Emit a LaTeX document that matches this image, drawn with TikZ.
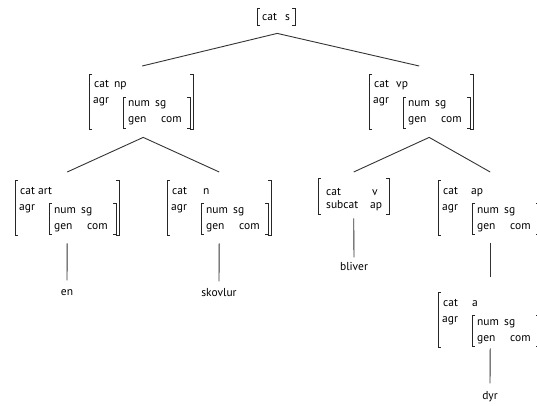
\documentclass[tikz,border=0pt]{standalone}
\usepackage{fontspec}
\setmainfont{PT Sans}
\usetikzlibrary{calc}
\tikzset{
  brk/.style={line width=0.9pt, black!85},
  conn/.style={line width=0.9pt, black!80},
  txt/.style={inner sep=0pt, anchor=base west, font=\fontsize{11.5}{13}\selectfont},
  leaf/.style={inner sep=0pt, font=\fontsize{11.5}{13}\selectfont, text height=7pt, text depth=2pt},
  avmbox/.style={inner sep=0pt, minimum width=104pt, minimum height=55pt, anchor=north west},
}
% AVM with cat and agr features: name, left, top, cat value, value offset
\newcommand\AVMagr[5]{%
  \node[avmbox] (#1) at (#2,#3) {};
  \begin{scope}[shift={(#2,#3)}]
    \draw[brk] (3,0) -- (0,0) -- (0,55) -- (3,55);
    \draw[brk] (101,0) -- (104,0) -- (104,55) -- (101,55);
    \draw[brk] (37,23) -- (34,23) -- (34,54) -- (37,54);
    \draw[brk] (98,23) -- (101,23) -- (101,54) -- (98,54);
    \node[txt] (#1-c) at (5,14) {cat};
    \node[txt] (#1-cv) at (#5,14) {#4};
    \node[txt] (#1-a) at (4,30) {agr};
    \node[txt] (#1-n) at (39,33) {num};
    \node[txt] (#1-nv) at (66,33) {sg};
    \node[txt] (#1-g) at (39,49) {gen};
    \node[txt] (#1-gv) at (72,49) {com};
  \end{scope}}
\begin{document}
\begin{tikzpicture}[x=1pt,y=-1pt]
\useasboundingbox (0,0) rectangle (537,406);
% root
\node[inner sep=0pt, minimum width=38pt, minimum height=17pt, anchor=north west] (s) at (257,8) {};
\draw[brk] (260,8) -- (257,8) -- (257,25) -- (260,25);
\draw[brk] (292,8) -- (295,8) -- (295,25) -- (292,25);
\node[txt] (s-c) at (262,21) {cat};
\node[txt] (s-cv) at (285,21) {s};
% second level
\AVMagr{np}{89}{74}{np}{25}
\AVMagr{vp}{369}{74}{vp}{27}
% third level
\AVMagr{art}{15}{180}{art}{23}
\AVMagr{n}{167}{180}{n}{36}
\node[inner sep=0pt, minimum width=71pt, minimum height=36pt, anchor=north west] (v) at (318,178) {};
\draw[brk] (321,178) -- (318,178) -- (318,214) -- (321,214);
\draw[brk] (386,178) -- (389,178) -- (389,214) -- (386,214);
\node[txt] (v-c) at (326,195) {cat};
\node[txt] (v-cv) at (372,195) {v};
\node[txt] (v-s) at (326,208) {subcat};
\node[txt] (v-sv) at (370,208) {ap};
\AVMagr{ap}{438}{180}{ap}{33}
\AVMagr{a}{438}{292}{a}{34}
% leaves
\node[leaf] (en) at (67,293) {en};
\node[leaf] (skovlur) at (219,294) {skovlur};
\node[leaf] (bliver) at (354,268) {bliver};
\node[leaf] (dyr) at (490,397) {dyr};
% connectors
\draw[conn] ($(np.north)+(1,-8)$) -- ($(s.south)+(1,8)$) -- ($(vp.north)+(-2,-8)$);
\draw[conn] ($(art.north)+(0,-8)$) -- ($(np.south)+(2,8)$) -- ($(n.north)+(0,-8)$);
\draw[conn] ($(v.north)+(0,-6)$) -- ($(vp.south)+(8,8)$) -- ($(ap.north)+(0,-8)$);
\draw[conn] ($(art.south)+(0,8)$) -- ($(en.north)+(0,-8)$);
\draw[conn] ($(n.south)+(0,8)$) -- ($(skovlur.north)+(0,-8)$);
\draw[conn] ($(v.south)+(0,4)$) -- ($(bliver.north)+(0,-6)$);
\draw[conn] ($(ap.south)+(0,8)$) -- ($(a.north)+(0,-15)$);
\draw[conn] ($(a.south)+(0,1)$) -- ($(dyr.north)+(0,-9)$);
\end{tikzpicture}
\end{document}
